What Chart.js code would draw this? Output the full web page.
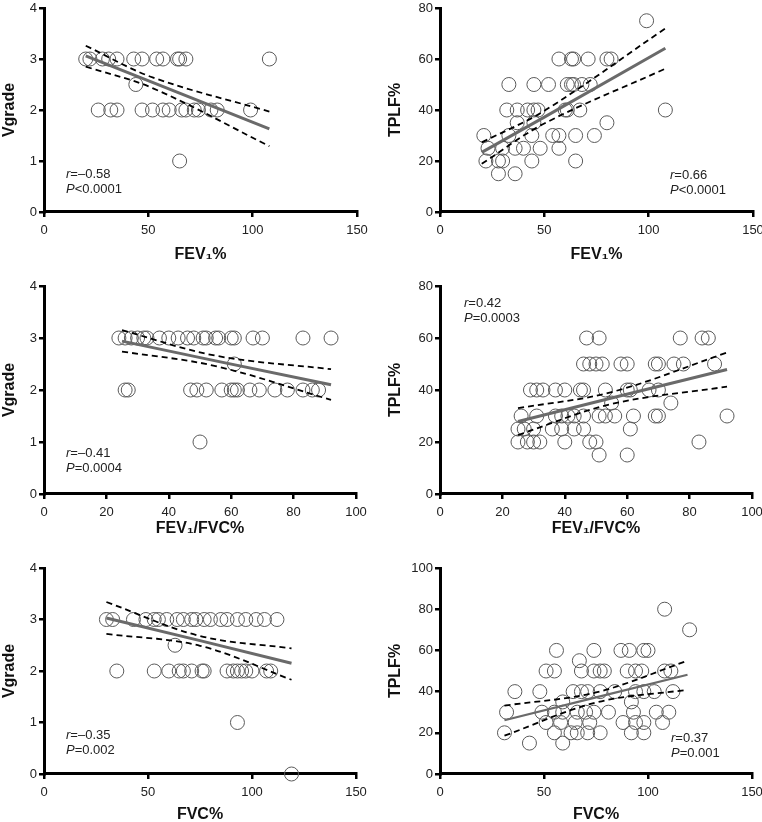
<!DOCTYPE html>
<html>
<head>
<meta charset="utf-8">
<script src="https://cdn.jsdelivr.net/npm/chart.js@4"></script>
<style>
  body { margin: 0; background: #fff; width: 762px; height: 822px; position: relative; overflow: hidden; }
  canvas { position: absolute; }
</style>
</head>
<body>
<canvas id="p1"></canvas>
<canvas id="p2"></canvas>
<canvas id="p3"></canvas>
<canvas id="p4"></canvas>
<canvas id="p5"></canvas>
<canvas id="p6"></canvas>
<script>
// panel 1: Vgrade vs FEV1%
var vgFev1X = [20, 22, 28, 31, 35, 43, 47, 54, 57, 64, 65, 68, 108, 44, 26, 32, 35, 47, 52, 57, 60, 66, 68, 72, 74, 80, 83, 99, 65];
var vgFev1Y = [3, 3, 3, 3, 3, 3, 3, 3, 3, 3, 3, 3, 3, 2.5, 2, 2, 2, 2, 2, 2, 2, 2, 2, 2, 2, 2, 2, 2, 1];
var vgFev1FitX = [20, 52, 108];
var vgFev1Fit = [3.06, 2.54, 1.63];
var vgFev1Hi = [3.26, 2.64, 1.97];
var vgFev1Lo = [2.85, 2.43, 1.29];

// panel 2: TPLF% vs FEV1%
var tpFev1X = [99, 57, 63, 64, 71, 80, 82, 33, 45, 52, 61, 63, 64, 68, 72, 32, 37, 42, 45, 47, 60, 61, 67, 108, 80, 45, 37, 21, 33, 44, 54, 57, 65, 74, 23, 30, 36, 40, 48, 57, 22, 28, 30, 44, 65, 28, 36];
var tpFev1Y = [75, 60, 60, 60, 60, 60, 60, 50, 50, 50, 50, 50, 50, 50, 50, 40, 40, 40, 40, 40, 40, 40, 40, 40, 35, 35, 35, 30, 30, 30, 30, 30, 30, 30, 25, 25, 25, 25, 25, 25, 20, 20, 20, 20, 20, 15, 15];
var tpFev1FitX = [20, 50, 108];
var tpFev1Fit = [23.4, 37.2, 64.2];
var tpFev1Hi = [27.3, 39.7, 72.0];
var tpFev1Lo = [18.9, 34.7, 56.2];

// panel 3: Vgrade vs FEV1/FVC%
var vgRatioX = [24, 26, 28, 30, 32, 33, 37, 40, 43, 46, 48, 51, 52, 55, 56, 60, 61, 67, 70, 83, 92, 61, 26, 27, 47, 49, 52, 57, 60, 61, 62, 66, 69, 74, 78, 83, 86, 88, 50];
var vgRatioY = [3, 3, 3, 3, 3, 3, 3, 3, 3, 3, 3, 3, 3, 3, 3, 3, 3, 3, 3, 3, 3, 2.5, 2, 2, 2, 2, 2, 2, 2, 2, 2, 2, 2, 2, 2, 2, 2, 2, 1];
var vgRatioFitX = [25, 55, 92];
var vgRatioFit = [2.94, 2.56, 2.10];
var vgRatioHi = [3.15, 2.66, 2.40];
var vgRatioLo = [2.74, 2.46, 1.81];

// panel 4: TPLF% vs FEV1/FVC%
var tpRatioX = [47, 51, 77, 84, 86, 46, 48, 50, 52, 58, 60, 69, 70, 75, 78, 88, 29, 31, 33, 37, 40, 45, 46, 53, 60, 61, 67, 70, 55, 74, 26, 31, 37, 39, 41, 43, 46, 51, 53, 56, 62, 69, 70, 92, 25, 27, 30, 36, 39, 43, 46, 61, 25, 28, 30, 32, 40, 48, 50, 83, 51, 60];
var tpRatioY = [60, 60, 60, 60, 60, 50, 50, 50, 50, 50, 50, 50, 50, 50, 50, 50, 40, 40, 40, 40, 40, 40, 40, 40, 40, 40, 40, 40, 35, 35, 30, 30, 30, 30, 30, 30, 30, 30, 30, 30, 30, 30, 30, 30, 25, 25, 25, 25, 25, 25, 25, 25, 20, 20, 20, 20, 20, 20, 20, 20, 15, 15];
var tpRatioFitX = [25, 55, 92];
var tpRatioFit = [27.9, 36.9, 47.9];
var tpRatioHi = [33.0, 39.2, 54.4];
var tpRatioLo = [22.7, 34.6, 41.3];

// panel 5: Vgrade vs FVC%
var vgFvcX = [30, 33, 43, 49, 53, 55, 59, 64, 67, 71, 73, 77, 80, 85, 88, 93, 97, 102, 106, 112, 63, 35, 53, 60, 65, 67, 71, 76, 77, 88, 91, 93, 95, 97, 100, 107, 109, 93, 119];
var vgFvcY = [3, 3, 3, 3, 3, 3, 3, 3, 3, 3, 3, 3, 3, 3, 3, 3, 3, 3, 3, 3, 2.5, 2, 2, 2, 2, 2, 2, 2, 2, 2, 2, 2, 2, 2, 2, 2, 2, 1, 0];
var vgFvcFitX = [30, 75, 119];
var vgFvcFit = [3.03, 2.59, 2.15];
var vgFvcHi = [3.34, 2.68, 2.44];
var vgFvcLo = [2.72, 2.49, 1.83];

// panel 6: TPLF% vs FVC%
var tpFvcX = [108, 120, 56, 74, 87, 91, 98, 100, 67, 51, 55, 68, 74, 77, 79, 90, 94, 97, 108, 111, 36, 48, 64, 68, 71, 77, 84, 94, 98, 103, 112, 59, 92, 32, 49, 55, 59, 66, 70, 74, 81, 93, 104, 110, 51, 58, 65, 72, 88, 94, 98, 107, 31, 55, 63, 66, 71, 77, 92, 98, 43, 59];
var tpFvcY = [80, 70, 60, 60, 60, 60, 60, 60, 55, 50, 50, 50, 50, 50, 50, 50, 50, 50, 50, 50, 40, 40, 40, 40, 40, 40, 40, 40, 40, 40, 40, 35, 35, 30, 30, 30, 30, 30, 30, 30, 30, 30, 30, 30, 25, 25, 25, 25, 25, 25, 25, 25, 20, 20, 20, 20, 20, 20, 20, 20, 15, 15];
var tpFvcFitX = [31, 75, 119];
var tpFvcFit = [26.1, 37.2, 48.2];
var tpFvcHi = [33.2, 39.6, 55.0];
var tpFvcLo = [18.6, 34.7, 40.9];

var FONT = "'Liberation Sans', Arial, sans-serif";

function pts(xs, ys) {
    return xs.map(function (x, i) { return { x: x, y: ys[i] }; });
}

var notePlugin = {
    id: 'note',
    afterDraw: function (chart, args, opts) {
        if (!opts || !opts.r) return;
        var ctx = chart.ctx;
        ctx.save();
        ctx.fillStyle = '#222';
        ctx.textBaseline = 'middle';
        ctx.textAlign = 'left';
        function row(y, letter, rest) {
            ctx.font = 'italic 13px ' + FONT;
            ctx.fillText(letter, opts.x, y);
            var w = ctx.measureText(letter).width;
            ctx.font = '13px ' + FONT;
            ctx.fillText(rest, opts.x + w, y);
        }
        row(opts.y, 'r', opts.r);
        row(opts.y + 15, 'P', opts.p);
        ctx.restore();
    }
};

function drawPanel(p) {
    var el = document.getElementById(p.id);
    el.width = p.w; el.height = p.h;
    el.style.left = p.left + 'px'; el.style.top = p.top + 'px';
    el.style.width = p.w + 'px'; el.style.height = p.h + 'px';

    var dashed = { type: 'line', borderColor: '#000', borderWidth: 1.8, borderDash: [6, 4], pointRadius: 0, tension: 0.35, fill: false };

    new Chart(el, {
        type: 'scatter',
        data: {
            datasets: [
                Object.assign({ data: pts(p.fitX, p.hi) }, dashed),
                Object.assign({ data: pts(p.fitX, p.lo) }, dashed),
                { type: 'line', data: pts(p.fitX, p.fit), borderColor: '#6a6a6a', borderWidth: p.fitW || 3, pointRadius: 0, fill: false },
                {
                    data: pts(p.xs, p.ys),
                    pointRadius: 7,
                    pointHoverRadius: 7,
                    pointBorderWidth: 1,
                    borderColor: '#5a5a5a',
                    backgroundColor: 'rgba(255,255,255,0)',
                    clip: false
                }
            ]
        },
        options: {
            responsive: false,
            animation: false,
            devicePixelRatio: 1,
            layout: { padding: { left: 0, right: p.w - p.R, top: p.T, bottom: p.h - p.titleY - 9.6 } },
            plugins: {
                legend: { display: false },
                tooltip: { enabled: false },
                note: p.note
            },
            scales: {
                x: {
                    type: 'linear', min: 0, max: p.xMax,
                    ticks: { stepSize: p.xStep, color: '#222', font: { family: FONT, size: 13 }, padding: 6 },
                    grid: { display: true, drawOnChartArea: false, drawTicks: true, tickLength: 5, lineWidth: 2.5, tickColor: '#000' },
                    border: { display: true, color: '#000', width: 3 },
                    title: { display: true, text: p.xTitle, color: '#111', font: { family: FONT, size: 16, weight: 'bold' }, padding: 0 },
                    afterFit: function (s) { s.height = p.titleY + 9.6 - p.B; s.paddingLeft = 0; s.paddingRight = 0; }
                },
                y: {
                    type: 'linear', min: 0, max: p.yMax,
                    ticks: { stepSize: p.yStep, color: '#222', font: { family: FONT, size: 13 }, padding: 2 },
                    grid: { display: true, drawOnChartArea: false, drawTicks: true, tickLength: 5, lineWidth: 2.5, tickColor: '#000' },
                    border: { display: true, color: '#000', width: 3 },
                    title: { display: true, text: p.yTitle, color: '#111', font: { family: FONT, size: 16, weight: 'bold' }, padding: { top: p.yTitlePad, bottom: 0 } },
                    afterFit: function (s) { s.width = p.L; s.paddingTop = 0; s.paddingBottom = 0; }
                }
            }
        },
        plugins: [notePlugin]
    });
}

drawPanel({ id: 'p1', left: 0, top: 0, w: 381, h: 270, L: 44, R: 357, T: 5, B: 212, titleY: 255,
    xs: vgFev1X, ys: vgFev1Y, fitX: vgFev1FitX, fit: vgFev1Fit, hi: vgFev1Hi, lo: vgFev1Lo,
    xMax: 150, xStep: 50, yMax: 4, yStep: 1, xTitle: 'FEV\u2081%', yTitle: 'Vgrade', yTitlePad: 0,
    note: { x: 66, y: 174, r: '=\u20130.58', p: '<0.0001' } });

drawPanel({ id: 'p2', left: 381, top: 0, w: 381, h: 270, L: 59, R: 372, T: 5, B: 212, titleY: 255,
    xs: tpFev1X, ys: tpFev1Y, fitX: tpFev1FitX, fit: tpFev1Fit, hi: tpFev1Hi, lo: tpFev1Lo,
    xMax: 150, xStep: 50, yMax: 80, yStep: 20, xTitle: 'FEV\u2081%', yTitle: 'TPLF%', yTitlePad: 5,
    note: { x: 289, y: 175, r: '=0.66', p: '<0.0001' } });

drawPanel({ id: 'p3', left: 0, top: 270, w: 381, h: 275, L: 44, R: 356, T: 16, B: 224, titleY: 259,
    xs: vgRatioX, ys: vgRatioY, fitX: vgRatioFitX, fit: vgRatioFit, hi: vgRatioHi, lo: vgRatioLo,
    xMax: 100, xStep: 20, yMax: 4, yStep: 1, xTitle: 'FEV\u2081/FVC%', yTitle: 'Vgrade', yTitlePad: 0,
    note: { x: 66, y: 183, r: '=\u20130.41', p: '=0.0004' } });

drawPanel({ id: 'p4', left: 381, top: 270, w: 381, h: 275, L: 59, R: 371, T: 16, B: 224, titleY: 259,
    xs: tpRatioX, ys: tpRatioY, fitX: tpRatioFitX, fit: tpRatioFit, hi: tpRatioHi, lo: tpRatioLo,
    xMax: 100, xStep: 20, yMax: 80, yStep: 20, xTitle: 'FEV\u2081/FVC%', yTitle: 'TPLF%', yTitlePad: 5,
    note: { x: 83, y: 33, r: '=0.42', p: '=0.0003' } });

drawPanel({ id: 'p5', left: 0, top: 545, w: 381, h: 280, L: 44, R: 356, T: 23, B: 229, titleY: 270,
    xs: vgFvcX, ys: vgFvcY, fitX: vgFvcFitX, fit: vgFvcFit, hi: vgFvcHi, lo: vgFvcLo,
    xMax: 150, xStep: 50, yMax: 4, yStep: 1, xTitle: 'FVC%', yTitle: 'Vgrade', yTitlePad: 0,
    note: { x: 66, y: 190, r: '=\u20130.35', p: '=0.002' } });

drawPanel({ id: 'p6', left: 381, top: 545, w: 381, h: 280, L: 59, R: 371, T: 23, B: 229, titleY: 270,
    xs: tpFvcX, ys: tpFvcY, fitX: tpFvcFitX, fit: tpFvcFit, hi: tpFvcHi, lo: tpFvcLo, fitW: 2.2,
    xMax: 150, xStep: 50, yMax: 100, yStep: 20, xTitle: 'FVC%', yTitle: 'TPLF%', yTitlePad: 5,
    note: { x: 290, y: 193, r: '=0.37', p: '=0.001' } });
</script>
</body>
</html>
